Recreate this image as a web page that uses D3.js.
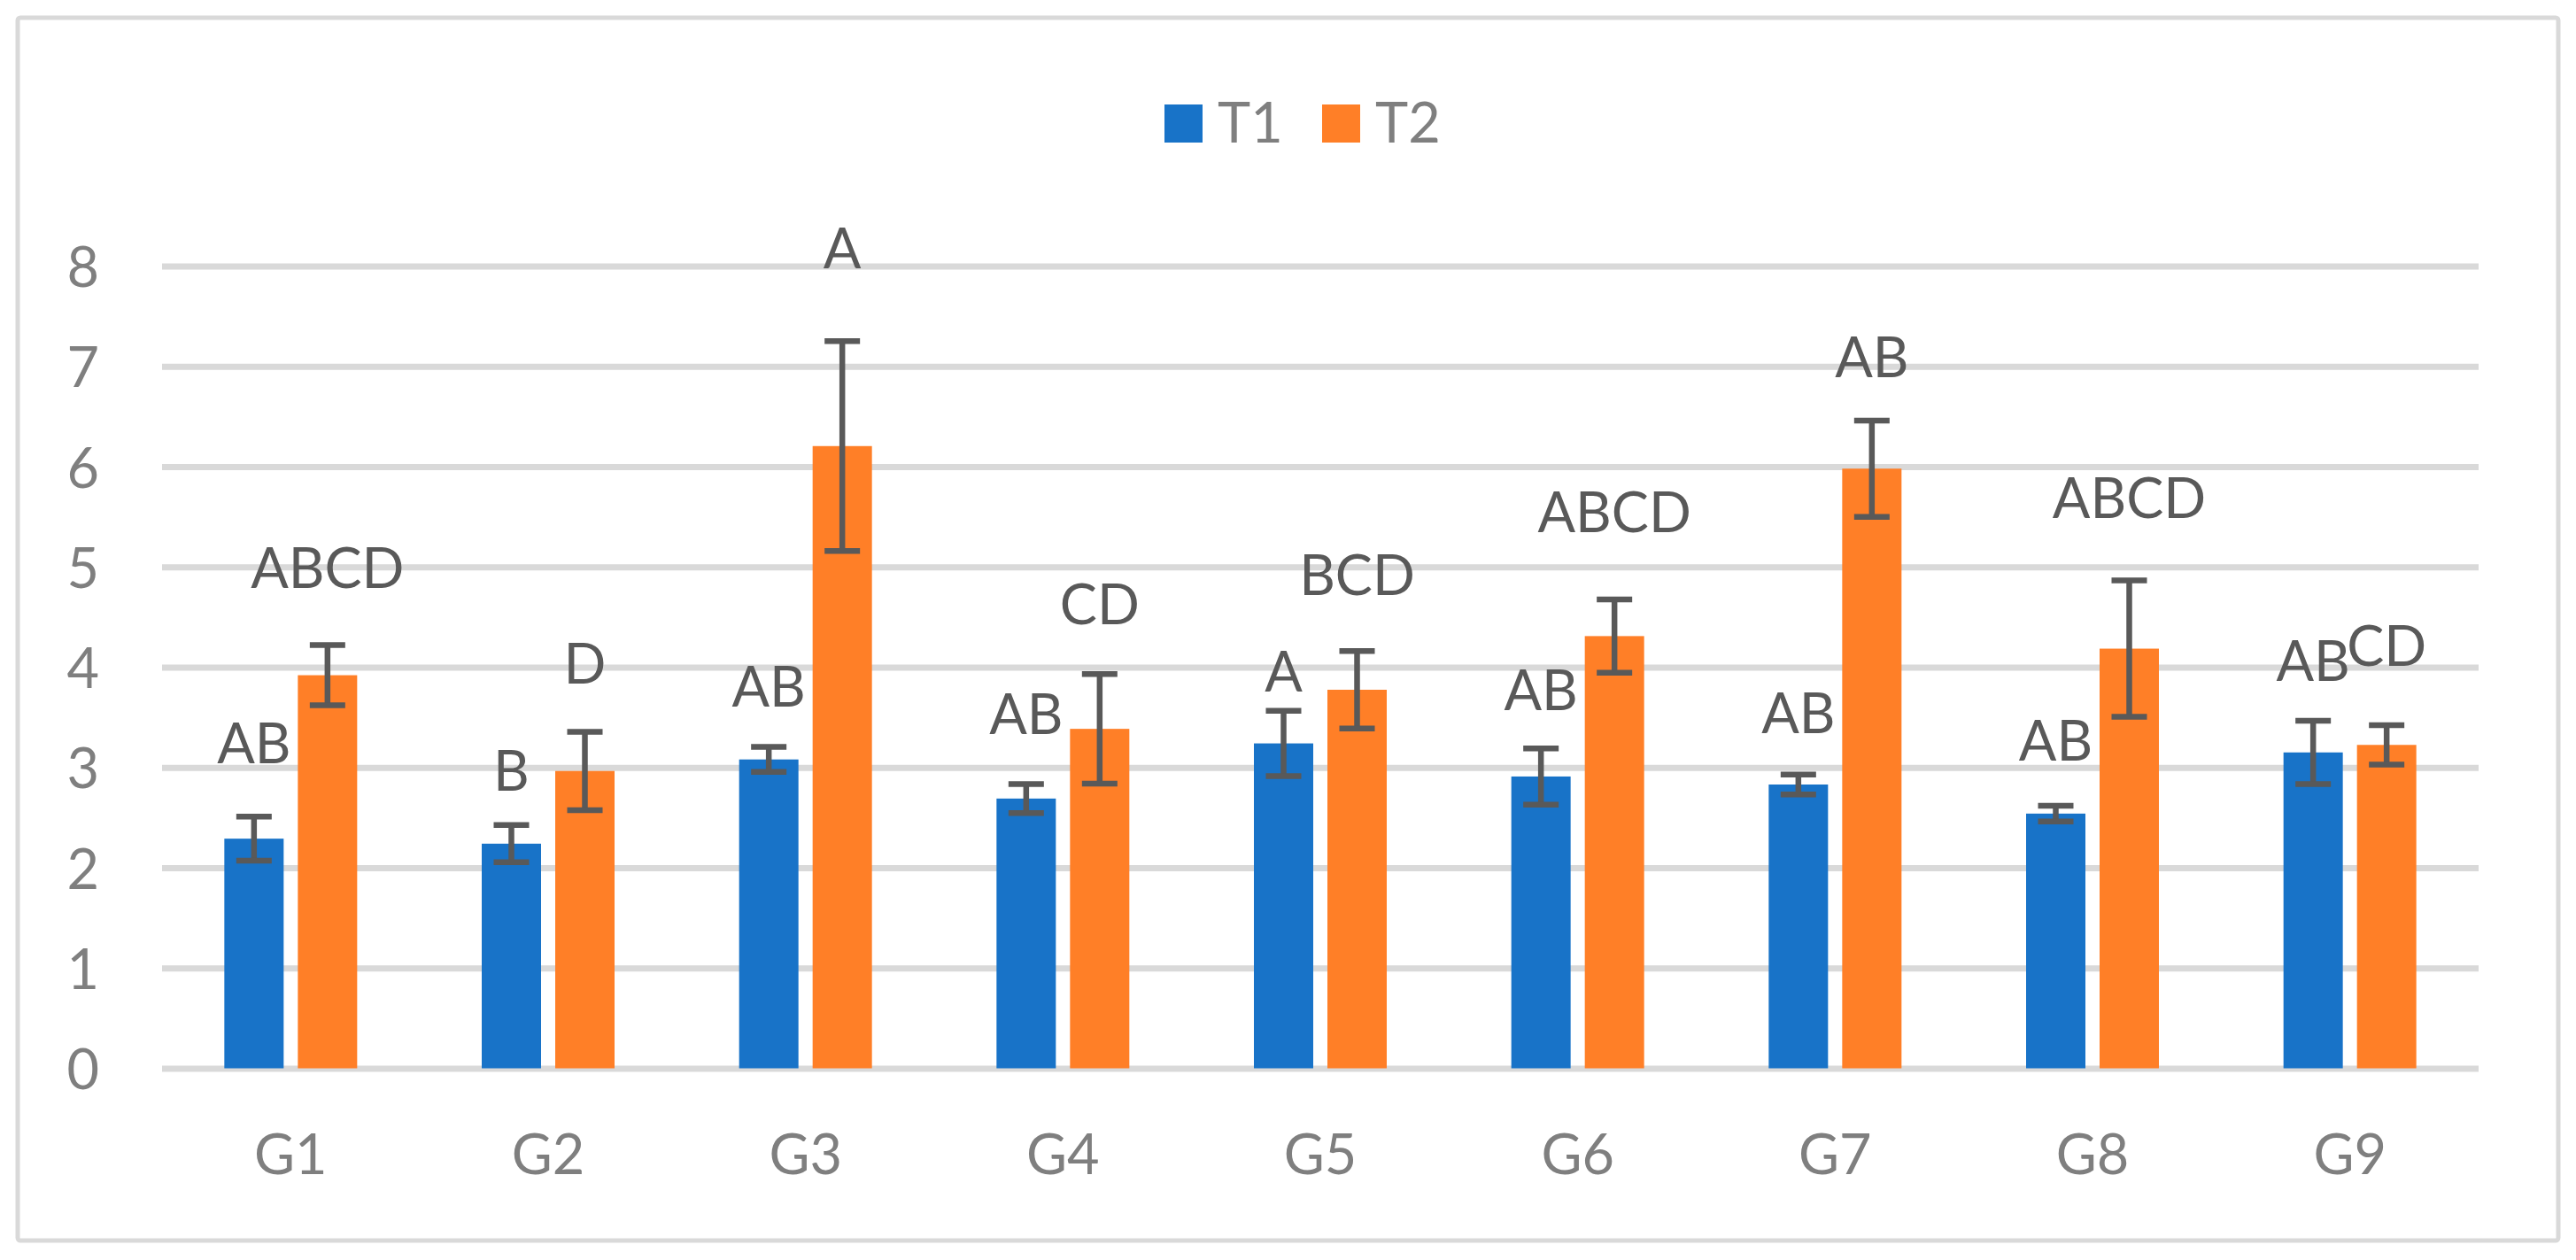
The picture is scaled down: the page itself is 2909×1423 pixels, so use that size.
<!DOCTYPE html>
<html>
<head>
<meta charset="utf-8">
<script src="https://cdn.jsdelivr.net/npm/d3@7"></script>
<style>
  html, body { margin: 0; padding: 0; background: #ffffff; }
  svg { display: block; }
  text { font-family: Lato, "Open Sans", "DejaVu Sans", sans-serif; }
</style>
</head>
<body>
<svg id="chart" width="2909" height="1423"></svg>
<script>
// ---- data ----
const categories = ["G1", "G2", "G3", "G4", "G5", "G6", "G7", "G8", "G9"];
const seriesNames = ["T1", "T2"];
const t1Values = [2.29, 2.24, 3.08, 2.69, 3.24, 2.91, 2.83, 2.54, 3.15];
const t2Values = [3.92, 2.965, 6.205, 3.385, 3.775, 4.31, 5.98, 4.185, 3.225];
const t1Errors = [0.22, 0.185, 0.125, 0.145, 0.325, 0.28, 0.10, 0.078, 0.315];
const t2Errors = [0.30, 0.39, 1.047, 0.546, 0.386, 0.366, 0.48, 0.68, 0.197];
const t1Letters = ["AB", "B", "AB", "AB", "A", "AB", "AB", "AB", "AB"];
const t2Letters = ["ABCD", "D", "A", "CD", "BCD", "ABCD", "AB", "ABCD", "CD"];
// letter baseline level, in axis units
const t1LetterLevel = [3.04, 2.77, 3.61, 3.33, 3.76, 3.57, 3.34, 3.07, 3.86];
const t2LetterLevel = [4.79, 3.84, 7.98, 4.43, 4.72, 5.35, 6.89, 5.49, 4.01];
const yTicks = [0, 1, 2, 3, 4, 5, 6, 7, 8];
const colors = ["#1873C8", "#FF7F27"];

// ---- build rows ----
const rows = categories.map((c, i) => ({
  cat: c,
  items: [
    { s: seriesNames[0], v: t1Values[i], e: t1Errors[i], l: t1Letters[i], ll: t1LetterLevel[i] },
    { s: seriesNames[1], v: t2Values[i], e: t2Errors[i], l: t2Letters[i], ll: t2LetterLevel[i] }
  ]
}));

const svg = d3.select("#chart");
const W = 2909, H = 1423;
const FS = 63;
const plot = { left: 183, right: 2799, top: 300.5, bottom: 1206.5 };

// outer frame
svg.append("rect")
  .attr("x", 20).attr("y", 20)
  .attr("width", W - 40).attr("height", H - 42)
  .attr("rx", 3)
  .attr("fill", "#ffffff")
  .attr("stroke", "#d9d9d9").attr("stroke-width", 5);

const y = d3.scaleLinear().domain([0, 8]).range([plot.bottom, plot.top]);
const x0 = d3.scaleBand().domain(categories).range([plot.left, plot.right])
  .paddingInner(0.484).paddingOuter(0.242);
const x1 = d3.scaleBand().domain(seriesNames).range([0, x0.bandwidth()])
  .paddingInner(0.193).paddingOuter(0);
const color = d3.scaleOrdinal().domain(seriesNames).range(colors);

// gridlines via axis
const gridAxis = d3.axisLeft(y).tickValues(yTicks)
  .tickSize(-(plot.right - plot.left)).tickFormat("");
const gg = svg.append("g").attr("transform", `translate(${plot.left},0)`).call(gridAxis);
gg.select(".domain").remove();
gg.selectAll(".tick line").attr("stroke", "#d9d9d9").attr("stroke-width", 7);

// y tick labels via axis
const yAxis = d3.axisLeft(y).tickValues(yTicks).tickSize(0).tickPadding(0).tickFormat(d3.format("d"));
const ya = svg.append("g").attr("transform", `translate(112,0)`).call(yAxis);
ya.select(".domain").remove();
ya.selectAll(".tick text")
  .attr("font-family", "Lato, 'Open Sans', sans-serif")
  .attr("font-size", FS).attr("fill", "#7f7f7f")
  .attr("dy", null).attr("y", 23).attr("text-anchor", "end");

// x category labels via axis
const xAxis = d3.axisBottom(x0).tickSize(0).tickPadding(0);
const xa = svg.append("g").attr("transform", `translate(0,1326)`).call(xAxis);
xa.select(".domain").remove();
xa.selectAll(".tick text")
  .attr("font-family", "Lato, 'Open Sans', sans-serif")
  .attr("font-size", FS).attr("fill", "#7f7f7f")
  .attr("dy", null).attr("y", 0);

// bars
const groups = svg.append("g").selectAll("g.grp").data(rows).join("g")
  .attr("class", "grp")
  .attr("transform", d => `translate(${x0(d.cat)},0)`);

groups.selectAll("rect").data(d => d.items).join("rect")
  .attr("x", d => x1(d.s))
  .attr("width", x1.bandwidth())
  .attr("y", d => y(d.v))
  .attr("height", d => y(0) - y(d.v))
  .attr("fill", d => color(d.s));

// error bars
const capHalf = 20;
const eb = groups.selectAll("g.err").data(d => d.items).join("g").attr("class", "err")
  .attr("stroke", "#595959").attr("stroke-width", 6.5);
eb.append("line")
  .attr("x1", d => x1(d.s) + x1.bandwidth() / 2).attr("x2", d => x1(d.s) + x1.bandwidth() / 2)
  .attr("y1", d => y(d.v + d.e)).attr("y2", d => y(d.v - d.e));
eb.append("line")
  .attr("x1", d => x1(d.s) + x1.bandwidth() / 2 - capHalf).attr("x2", d => x1(d.s) + x1.bandwidth() / 2 + capHalf)
  .attr("y1", d => y(d.v + d.e)).attr("y2", d => y(d.v + d.e));
eb.append("line")
  .attr("x1", d => x1(d.s) + x1.bandwidth() / 2 - capHalf).attr("x2", d => x1(d.s) + x1.bandwidth() / 2 + capHalf)
  .attr("y1", d => y(d.v - d.e)).attr("y2", d => y(d.v - d.e));

// significance letters
groups.selectAll("text.letter").data(d => d.items).join("text")
  .attr("class", "letter")
  .attr("x", d => x1(d.s) + x1.bandwidth() / 2)
  .attr("y", d => y(d.ll))
  .attr("text-anchor", "middle")
  .attr("font-size", FS)
  .attr("fill", "#595959")
  .text(d => d.l);

// legend
const legend = svg.append("g");
const legendX = [1315, 1493];
seriesNames.forEach((s, i) => {
  legend.append("rect").attr("x", legendX[i]).attr("y", 118).attr("width", 43).attr("height", 43)
    .attr("fill", color(s));
  legend.append("text").attr("x", legendX[i] + 60).attr("y", 161)
    .attr("font-size", FS).attr("fill", "#7f7f7f").text(s);
});
</script>
</body>
</html>
